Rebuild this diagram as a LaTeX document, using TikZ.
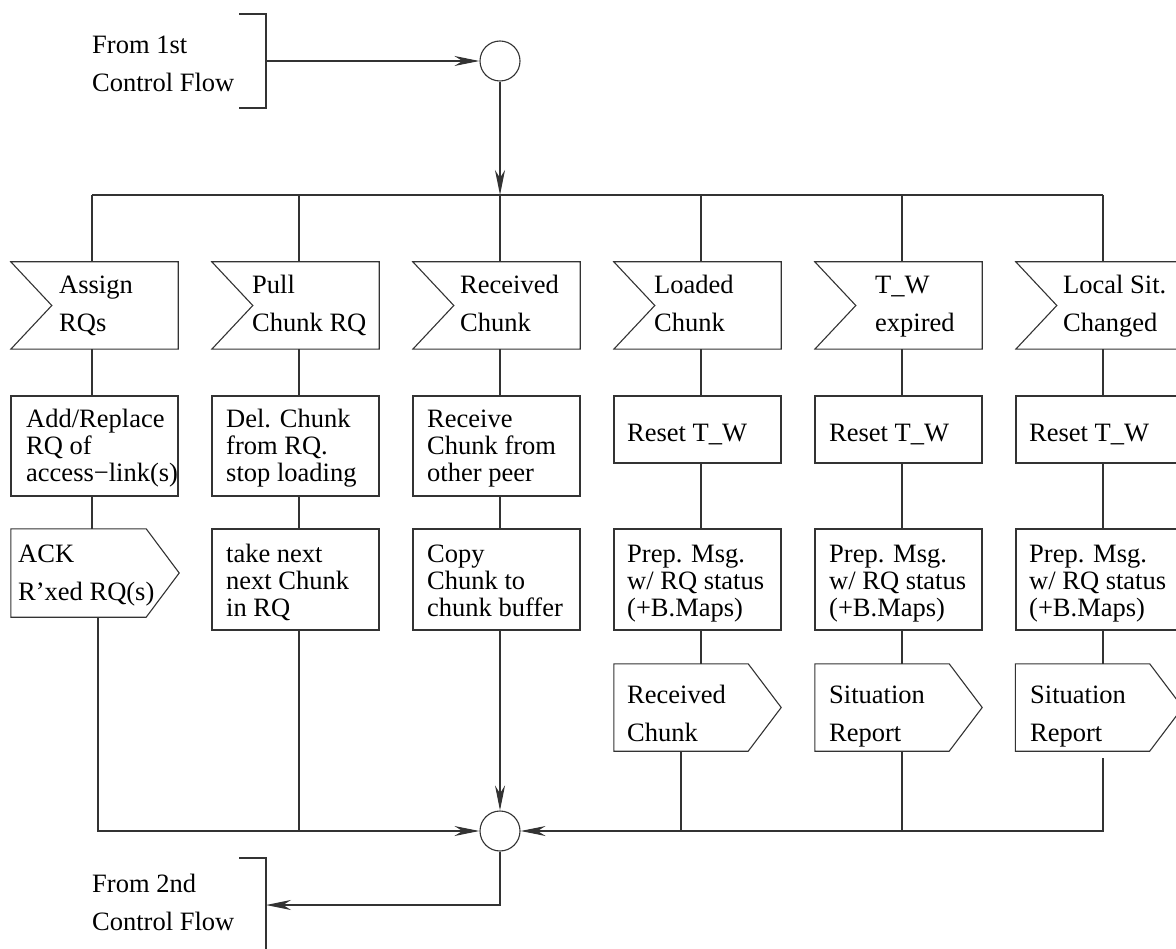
\documentclass[tikz,border=0pt]{standalone}
\usepackage{fontspec}
\setmainfont{Liberation Serif}
\usetikzlibrary{arrows.meta}

% label font and a left-aligned stack of lines whose baseline is the first line
\newcommand\fs{\fontsize{26.5pt}{27pt}\selectfont}
\newcommand\ml[2]{\vtop{\baselineskip=#1\relax\lineskiplimit=-100pt\halign{##\hfil\cr#2\crcr}}}

% outlines for the input (notched) and output (pointed) signal symbols
\newcommand\recvoutline[1]{\draw[ln] (#1.north west) -- (#1.north east) -- (#1.south east) -- (#1.south west) -- ([xshift=41pt]#1.west) -- cycle;}
\newcommand\sendoutline[1]{\draw[ln] (#1.north west) -- ([xshift=-33pt]#1.north east) -- (#1.east) -- ([xshift=-33pt]#1.south east) -- (#1.south west) -- cycle;}

\begin{document}
\begin{tikzpicture}[x=1pt,y=-1pt,
  ln/.style={line width=1.1pt, draw=black!80},
  arr/.style={ln, -{Stealth[length=25pt,width=10pt,inset=8pt]}},
  shapebox/.style={rectangle, inner sep=0pt, minimum width=167pt},
  plainbox/.style={shapebox, ln},
  txt/.style={font=\fs, inner sep=0pt, anchor=base west},
  junction/.style={circle, ln, fill=white, minimum size=40pt, inner sep=0pt}]

\useasboundingbox (0,0) rectangle (1176,949);
\clip (0,0) rectangle (1176,949);

% ---------- entry from the first control flow ----------
\draw[ln] (239,14) -- (266,14) -- (266,108) -- (239,108);
\coordinate (f1) at (266,61);
\node[txt] (f1t) at (92,54) {\ml{38pt}{From 1st\cr Control Flow}};
\node[junction] (m0) at (500,61) {};
\draw[arr] (f1) -- (m0.west);

% distribution bus
\coordinate (c1) at (92,195);
\coordinate (c2) at (299,195);
\coordinate (c3) at (500,195);
\coordinate (c4) at (701,195);
\coordinate (c5) at (902,195);
\coordinate (c6) at (1103,195);
\draw[ln] (c1) -- (c6);
\draw[arr] (m0.south) -- (c3);

% ---------- row 1: incoming signals ----------
\node[shapebox, minimum height=87pt] (r1) at (94.5,305.5) {};
\node[shapebox, minimum height=87pt] (r2) at (295.5,305.5) {};
\node[shapebox, minimum height=87pt] (r3) at (496.5,305.5) {};
\node[shapebox, minimum height=87pt] (r4) at (697.5,305.5) {};
\node[shapebox, minimum height=87pt] (r5) at (898.5,305.5) {};
\node[shapebox, minimum height=87pt] (r6) at (1099.5,305.5) {};
\recvoutline{r1}\recvoutline{r2}\recvoutline{r3}
\recvoutline{r4}\recvoutline{r5}\recvoutline{r6}
\node[txt] (r1t) at (59,294) {\ml{38pt}{Assign\cr RQs}};
\node[txt] (r2t) at (252,294) {\ml{38pt}{Pull\cr Chunk RQ}};
\node[txt] (r3t) at (460,294) {\ml{38pt}{Received\cr Chunk}};
\node[txt] (r4t) at (654,294) {\ml{38pt}{Loaded\cr Chunk}};
\node[txt] (r5t) at (875,294) {\ml{38pt}{T\_W\cr expired}};
\node[txt] (r6t) at (1063,294) {\ml{38pt}{Local Sit.\cr Changed}};

% ---------- row 2: first tasks ----------
\node[plainbox, minimum height=100pt] (p1) at (94.5,446) {};
\node[plainbox, minimum height=100pt] (p2) at (295.5,446) {};
\node[plainbox, minimum height=100pt] (p3) at (496.5,446) {};
\node[plainbox, minimum height=67pt] (p4) at (697.5,429.5) {};
\node[plainbox, minimum height=67pt] (p5) at (898.5,429.5) {};
\node[plainbox, minimum height=67pt] (p6) at (1099.5,429.5) {};
\node[txt] (p1t) at (26,428) {\ml{27pt}{Add/Replace\cr RQ of\cr access−link(s)}};
\node[txt] (p2t) at (226,428) {\ml{27pt}{Del. Chunk\cr from RQ.\cr stop loading}};
\node[txt] (p3t) at (427,428) {\ml{27pt}{Receive\cr Chunk from\cr other peer}};
\node[txt] (p4t) at (627,442) {Reset T\_W};
\node[txt] (p5t) at (829,442) {Reset T\_W};
\node[txt] (p6t) at (1029,442) {Reset T\_W};

% ---------- row 3 ----------
\node[shapebox, minimum width=168pt, minimum height=88pt] (a1) at (95,573) {};
\sendoutline{a1}
\node[plainbox, minimum height=101pt] (q2) at (295.5,579.5) {};
\node[plainbox, minimum height=101pt] (q3) at (496.5,579.5) {};
\node[plainbox, minimum height=101pt] (q4) at (697.5,579.5) {};
\node[plainbox, minimum height=101pt] (q5) at (898.5,579.5) {};
\node[plainbox, minimum height=101pt] (q6) at (1099.5,579.5) {};
\node[txt] (a1t) at (18,562) {\ml{38pt}{ACK\cr R’xed RQ(s)}};
\node[txt] (q2t) at (226,562) {\ml{27pt}{take next\cr next Chunk\cr in RQ}};
\node[txt] (q3t) at (427,562) {\ml{27pt}{Copy\cr Chunk to\cr chunk buffer}};
\node[txt] (q4t) at (627,562) {\ml{27pt}{Prep. Msg.\cr w/ RQ status\cr (+B.Maps)}};
\node[txt] (q5t) at (829,562) {\ml{27pt}{Prep. Msg.\cr w/ RQ status\cr (+B.Maps)}};
\node[txt] (q6t) at (1029,562) {\ml{27pt}{Prep. Msg.\cr w/ RQ status\cr (+B.Maps)}};

% ---------- row 4: outgoing messages ----------
\node[shapebox, minimum height=87pt] (s4) at (697.5,707.5) {};
\node[shapebox, minimum height=87pt] (s5) at (898.5,707.5) {};
\node[shapebox, minimum height=87pt] (s6) at (1099,707.5) {};
\sendoutline{s4}\sendoutline{s5}\sendoutline{s6}
\node[txt] (s4t) at (627,703) {\ml{38pt}{Received\cr Chunk}};
\node[txt] (s5t) at (829,703) {\ml{38pt}{Situation\cr Report}};
\node[txt] (s6t) at (1030,703) {\ml{38pt}{Situation\cr Report}};

% ---------- vertical links within each column ----------
\foreach \i in {1,...,6}{
  \draw[ln] (c\i) -- (c\i |- r\i.north);
  \draw[ln] (r\i.south -| c\i) -- (p\i.north -| c\i);
}
\draw[ln] (p1.south -| c1) -- (a1.north -| c1);
\foreach \i in {2,...,6}{
  \draw[ln] (p\i.south -| c\i) -- (q\i.north -| c\i);
}
\foreach \i in {4,5,6}{
  \draw[ln] (q\i.south -| c\i) -- (s\i.north -| c\i);
}

% ---------- collecting bus and exit ----------
\node[junction] (m1) at (500,831) {};
\coordinate (b1) at (98,831);
\coordinate (b2) at (299,831);
\coordinate (b4) at (681,831);
\coordinate (b5) at (902,831);
\coordinate (b6) at (1103,831);
\draw[arr] (a1.south -| b1) -- (b1) -- (m1.west);
\draw[ln] (q2.south -| b2) -- (b2);
\draw[arr] (q3.south -| m1.north) -- (m1.north);
\draw[ln] (s4.south -| b4) -- (b4);
\draw[ln] (s5.south -| b5) -- (b5);
\draw[arr] ([yshift=-7pt]s6.south -| b6) -- (b6) -- (m1.east);

\draw[ln] (239,858) -- (266,858) -- (266,952) -- (239,952);
\coordinate (f2) at (266,905);
\node[txt] (f2t) at (92,892) {\ml{38pt}{From 2nd\cr Control Flow}};
\draw[arr] (m1.south) |- (f2);

\end{tikzpicture}
\end{document}
